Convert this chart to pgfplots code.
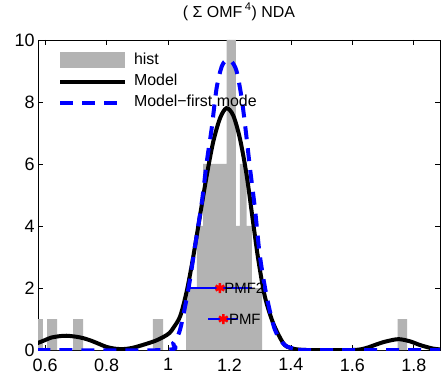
\documentclass[border=0pt]{standalone}
\usepackage{pgfplots}
\pgfplotsset{compat=1.18}
\usepackage{fontspec}
\setmainfont{Liberation Sans}
\definecolor{histgray}{RGB}{179,179,179}
\pgfplotsset{
  lineleg/.style={legend image code/.code={\draw[##1] (0bp,0bp) -- (65bp,0bp);}},
  histleg/.style={legend image code/.code={\fill[histgray] (0bp,-8.3bp) rectangle (65bp,8.3bp);}},
}
\begin{document}
\begin{tikzpicture}
\begin{axis}[
 scale only axis, width=402bp, height=310bp,
 xmin=0.577, xmax=1.885, ymin=0, ymax=10,
 xtick={0.6,0.8,1,1.2,1.4,1.6,1.8},
 xticklabels={0.6,0.8,1,1.2,1.4,1.6,1.8},
 ytick={0,2,4,6,8,10},
 yticklabels={0,2,4,6,8,10},
 tick align=inside, xtick pos=both, ytick pos=both,
 xticklabel pos=bottom, yticklabel pos=left,
 major tick length=5bp,
 tick style={black, line width=0.8bp},
 axis line style={black, line width=0.8bp},
 ticklabel style={font=\fontsize{18}{20}\selectfont},
 xticklabel style={yshift=-5bp},
 /pgf/number format/assume math mode=true,
 title={( Σ OMF\,\textsuperscript{4}) NDA},
 title style={at={(0.5,1)}, anchor=base, yshift=17bp, font=\fontsize{16}{18}\selectfont, inner sep=0pt},
 legend cell align=left,
 legend style={at={(0,1)}, anchor=north west, xshift=20bp, yshift=-11.7bp,
   draw=none, fill=none, inner sep=0pt, outer sep=0pt,
   font=\fontsize{16}{18}\selectfont, row sep=5.5bp, column sep=7bp,
   nodes={inner sep=0pt, text height=12bp, text depth=3.5bp}},
]
\addplot[ybar interval, fill=histgray, draw=none, histleg]
coordinates {
(0.561,1) (0.593,0) (0.607,1) (0.639,0) (0.691,1) (0.724,0) (0.951,1) (0.984,0)
(1.059,2) (1.094,4) (1.114,6) (1.191,10) (1.221,4) (1.234,6) (1.256,4) (1.273,2)
(1.306,0) (1.747,1) (1.778,0)
};
\addlegendentry{hist}
\addplot[black, line width=4bp, smooth, tension=0.5, lineleg]
coordinates {
(0.575,0.22) (0.60,0.32) (0.62,0.40) (0.65,0.45) (0.67,0.46) (0.70,0.43)
(0.725,0.38) (0.75,0.30) (0.77,0.22) (0.80,0.10) (0.83,0.04) (0.855,0.03)
(0.88,0.06) (0.90,0.11) (0.93,0.20) (0.96,0.30) (0.985,0.42) (1.005,0.55)
(1.02,0.75) (1.04,1.10) (1.061,1.90) (1.082,3.00) (1.104,4.33) (1.126,5.63)
(1.147,6.71) (1.169,7.47) (1.19,7.80) (1.212,7.57) (1.234,6.82) (1.256,5.63)
(1.277,4.11) (1.294,2.90) (1.315,1.73) (1.342,0.87) (1.375,0.22) (1.40,0.06)
(1.45,0.0) (1.60,0.0) (1.64,0.05) (1.667,0.14) (1.69,0.22) (1.711,0.28)
(1.75,0.35) (1.787,0.28) (1.82,0.16) (1.86,0.05) (1.885,0.02)
};
\addlegendentry{Model}
\addplot[blue, line width=4bp, dash pattern=on 13bp off 9bp, smooth, tension=0.5, lineleg]
coordinates {
(0.575,0.0) (0.99,0.0) (1.017,0.22) (1.039,0.65) (1.066,1.95) (1.088,3.35)
(1.110,4.76) (1.126,6.06) (1.142,7.14) (1.158,8.44) (1.175,9.15) (1.191,9.35)
(1.207,9.30) (1.223,9.0) (1.240,8.1) (1.255,6.9) (1.267,5.84) (1.283,4.55)
(1.299,3.03) (1.321,1.73) (1.348,0.65) (1.380,0.16) (1.42,0.02) (1.45,0.0) (1.885,0.0)
};
\addlegendentry{Model\char"2212 first mode}
\addplot[blue, line width=1.3bp, forget plot] coordinates {(1.065,2) (1.273,2)};
\addplot[blue, line width=1.3bp, forget plot] coordinates {(1.131,1) (1.229,1)};
\addplot[red, only marks, mark=asterisk, mark size=5bp, line width=2.4bp, forget plot]
  coordinates {(1.169,2) (1.180,1)};
\node[anchor=west, inner sep=0pt, font=\fontsize{15}{17}\selectfont] at (axis cs:1.183,2) {PMF2};
\node[anchor=west, inner sep=0pt, font=\fontsize{15}{17}\selectfont] at (axis cs:1.198,1) {PMF};
\end{axis}
\pgfresetboundingbox
\path ([xshift=-38bp,yshift=-34bp]current axis.south west) rectangle ([xshift=4bp,yshift=40bp]current axis.north east);
\end{tikzpicture}
\end{document}
